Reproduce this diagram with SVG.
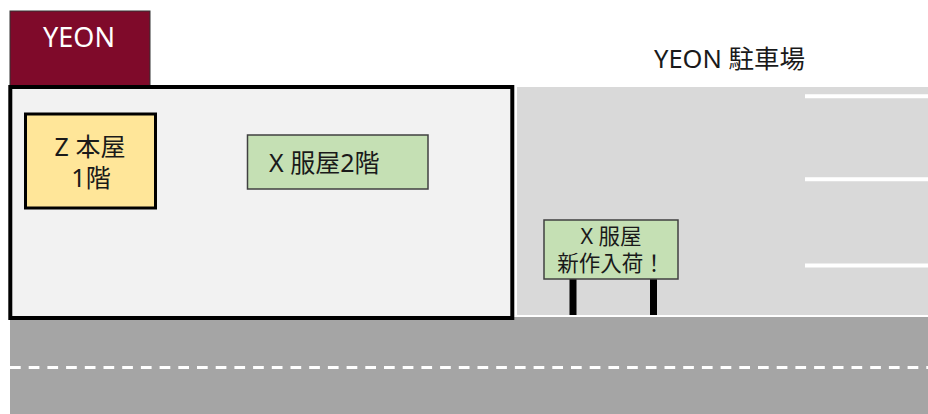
<svg xmlns="http://www.w3.org/2000/svg" width="928" height="414" viewBox="0 0 928 414">
<style>
  .t { font-family: "Noto Sans", "Noto Sans CJK JP", sans-serif; fill: #1a1a1a; }
  .green { fill: #c5e0b4; stroke: #404040; stroke-width: 1.5; }
  .pline { stroke: #ffffff; stroke-width: 4; }
  .pole { fill: #000000; }
</style>
<rect width="928" height="414" fill="#ffffff"/>
<g id="parking">
  <rect x="517" y="87" width="411" height="228" fill="#d9d9d9"/>
  <line class="pline" x1="805" y1="96.3" x2="928" y2="96.3"/>
  <line class="pline" x1="805" y1="179.3" x2="928" y2="179.3"/>
  <line class="pline" x1="805" y1="265.5" x2="928" y2="265.5"/>
</g>
<g id="road">
  <rect x="10" y="317" width="918" height="97" fill="#a5a5a5"/>
  <line x1="10" y1="367.5" x2="928" y2="367.5" stroke="#ffffff" stroke-width="3" stroke-dasharray="10.7 8"/>
</g>
<g id="yeon-sign">
  <rect x="10" y="11" width="140" height="76" fill="#7f0a2a" stroke="#333333" stroke-width="1"/>
  <text class="t" x="79" y="47" font-size="27" text-anchor="middle" style="fill:#ffffff">YEON</text>
</g>
<g id="building">
  <rect x="10.3" y="87" width="502" height="231" fill="#f2f2f2" stroke="#000000" stroke-width="4"/>
</g>
<g id="z-honya">
  <rect x="25.5" y="114" width="130" height="94" fill="#ffe699" stroke="#000000" stroke-width="3"/>
  <text class="t" x="90" y="156" font-size="25" text-anchor="middle">Z 本屋</text>
  <text class="t" x="91" y="187" font-size="25" text-anchor="middle">1階</text>
</g>
<g id="x-fukuya-2f">
  <rect class="green" x="247.5" y="135" width="180.5" height="54"/>
  <text class="t" x="269" y="172" font-size="25">X 服屋2階</text>
</g>
<g id="parking-label">
  <text class="t" x="729.5" y="67.5" font-size="25.5" text-anchor="middle">YEON 駐車場</text>
</g>
<g id="x-fukuya-board">
  <rect class="pole" x="569.5" y="278" width="7" height="37"/>
  <rect class="pole" x="650" y="278" width="7" height="37"/>
  <rect class="green" x="544" y="220" width="134" height="59"/>
  <text class="t" x="611" y="244" font-size="21.5" text-anchor="middle">X 服屋</text>
  <text class="t" x="611" y="271" font-size="21.5" text-anchor="middle">新作入荷！</text>
</g>
</svg>
